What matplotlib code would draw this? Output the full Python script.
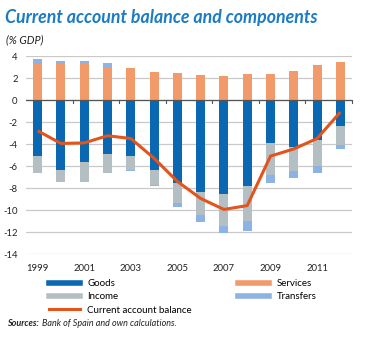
import matplotlib
matplotlib.use("Agg")
import matplotlib.pyplot as plt
from matplotlib.lines import Line2D
import numpy as np

plt.rcParams['font.family'] = ['Lato', 'DejaVu Sans']

years = list(range(1999, 2013))
goods = [-5.1, -6.35, -5.6, -4.95, -5.05, -6.35, -7.5, -8.4, -8.55, -7.8, -3.95, -4.3, -3.65, -2.4]
income = [-1.58, -1.14, -1.85, -1.73, -1.3, -1.4, -1.9, -2.05, -2.9, -3.2, -2.88, -2.12, -2.36, -1.67]
services = [3.27, 3.3, 3.35, 3.03, 2.91, 2.55, 2.42, 2.24, 2.18, 2.36, 2.39, 2.6, 3.15, 3.45]
transfers = [0.49, 0.28, 0.17, 0.37, -0.09, -0.03, -0.3, -0.65, -0.6, -0.88, -0.68, -0.64, -0.6, -0.39]
ca_balance = [-2.8, -3.95, -3.9, -3.25, -3.5, -5.3, -7.4, -8.95, -9.95, -9.6, -5.1, -4.45, -3.5, -1.1]
yticks = [4, 2, 0, -2, -4, -6, -8, -10, -12, -14]

c_goods = '#0a67b1'
c_income = '#b4bfc4'
c_services = '#f39a6a'
c_transfers = '#8cb3e3'
c_line = '#e2541c'
c_title = '#1b7bc4'

W, H = 370, 338
fig = plt.figure(figsize=(W / 100, H / 100), dpi=100)

def fx(x):
    return x / W

def fy(y):
    return 1 - y / H

ax = fig.add_axes([fx(26), fy(254), (352 - 26) / W, (254 - 56) / H])

x = np.arange(len(years))
g = np.array(goods)
inc = np.array(income)
s = np.array(services)
t = np.array(transfers)
bw = 0.39

ax.bar(x, g, bw, color=c_goods, zorder=3)
ax.bar(x, inc, bw, bottom=g, color=c_income, zorder=3)
ax.bar(x, s, bw, color=c_services, zorder=3)
t_pos = np.where(t > 0, t, 0)
t_neg = np.where(t < 0, t, 0)
ax.bar(x, t_pos, bw, bottom=s, color=c_transfers, zorder=3)
ax.bar(x, t_neg, bw, bottom=g + inc, color=c_transfers, zorder=3)
ax.plot(x, ca_balance, color=c_line, lw=2.2, zorder=4, solid_capstyle='butt')

ax.set_xlim(-0.5, len(years) - 0.5)
ax.set_ylim(-14, 4)
ax.set_yticks(yticks)
ax.set_yticklabels([str(v) for v in yticks], fontsize=6.8, color='#222222')
ax.yaxis.grid(True, color='#c9c9c9', lw=0.9, zorder=0)
ax.set_axisbelow(True)
ax.tick_params(axis='y', length=0, pad=6)
for sp in ax.spines.values():
    sp.set_visible(False)

ax.set_xticks(x[::2])
ax.set_xticklabels([str(y) for y in years[::2]], fontsize=6.8, color='#222222')
ax.tick_params(axis='x', length=0, pad=7)

ax.axhline(0, color='#555555', lw=0.9, zorder=5)
for b in np.arange(1.5, len(years), 2):
    ax.plot([b, b], [0, -0.25], color='#555555', lw=0.8, zorder=5, clip_on=False)

fig.text(fx(5), fy(18), 'Current account balance and components', fontsize=12.8,
         fontweight='bold', fontstyle='italic', color=c_title, va='center', ha='left')
fig.text(fx(6), fy(40), '(% GDP)', fontsize=7.8, fontstyle='italic', color='#222222',
         va='center', ha='left')

handles = [
    Line2D([], [], color=c_goods, lw=4),
    Line2D([], [], color=c_income, lw=4),
    Line2D([], [], color=c_line, lw=2.2),
    Line2D([], [], color=c_services, lw=4),
    Line2D([], [], color=c_transfers, lw=4),
]
labels = ['Goods', 'Income', 'Current account balance', 'Services', 'Transfers']
fig.legend(handles, labels, ncol=2, loc='upper left', bbox_to_anchor=(fx(49), fy(279)),
           frameon=False, fontsize=7, handlelength=3.2, handletextpad=0.75,
           labelspacing=0.45, columnspacing=4.75, borderaxespad=0, borderpad=0)

fig.text(fx(7), fy(324), 'Sources:', fontsize=6.5, fontweight='bold', fontstyle='italic',
         color='#222222', va='center', ha='left')
fig.text(fx(42), fy(324), 'Bank of Spain and own calculations.', fontsize=6.5,
         fontstyle='italic', color='#222222', va='center', ha='left')

fig.savefig('out.png', dpi=100)
